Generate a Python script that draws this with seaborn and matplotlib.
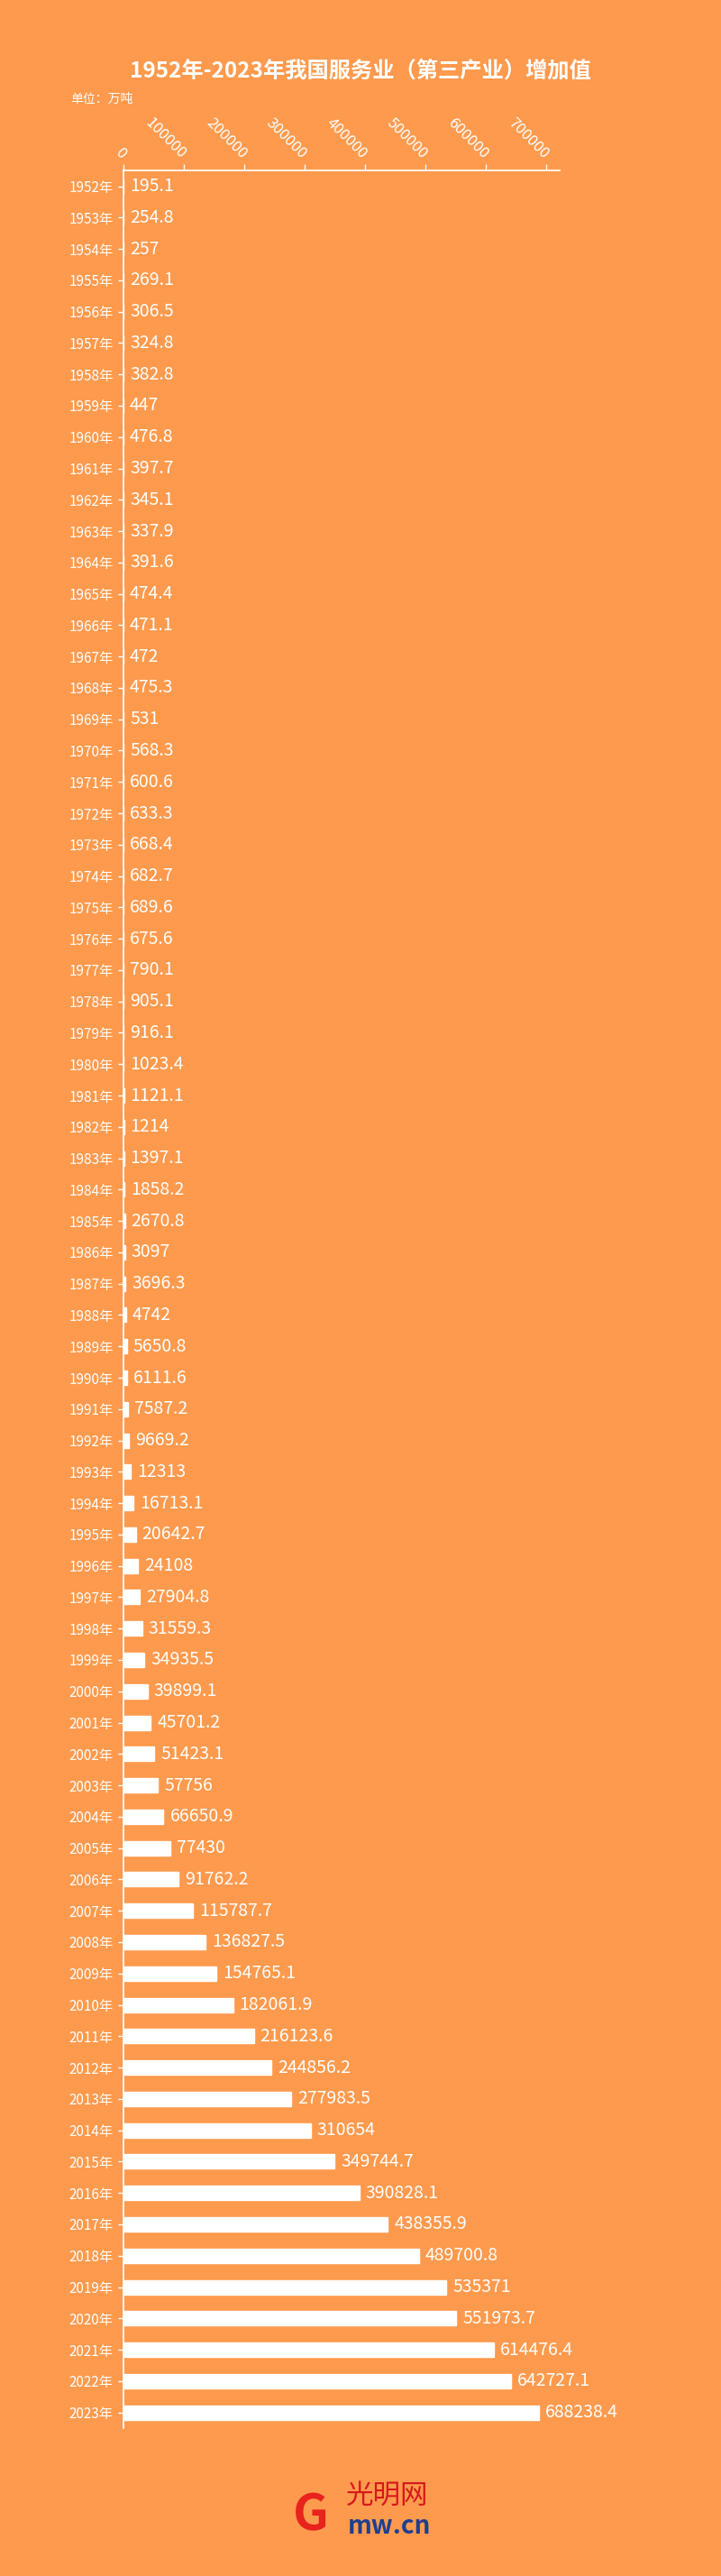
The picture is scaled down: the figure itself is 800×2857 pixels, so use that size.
import matplotlib
matplotlib.use("Agg")
import matplotlib.pyplot as plt
import matplotlib.transforms as mtransforms
import seaborn as sns
import pandas as pd

# data (unit label as printed in source)
years = list(range(1952, 2024))
year_labels = [f"{y}年" for y in years]
values = [
    195.1, 254.8, 257, 269.1, 306.5, 324.8, 382.8, 447, 476.8, 397.7,
    345.1, 337.9, 391.6, 474.4, 471.1, 472, 475.3, 531, 568.3, 600.6,
    633.3, 668.4, 682.7, 689.6, 675.6, 790.1, 905.1, 916.1, 1023.4, 1121.1,
    1214, 1397.1, 1858.2, 2670.8, 3097, 3696.3, 4742, 5650.8, 6111.6, 7587.2,
    9669.2, 12313, 16713.1, 20642.7, 24108, 27904.8, 31559.3, 34935.5, 39899.1, 45701.2,
    51423.1, 57756, 66650.9, 77430, 91762.2, 115787.7, 136827.5, 154765.1, 182061.9, 216123.6,
    244856.2, 277983.5, 310654, 349744.7, 390828.1, 438355.9, 489700.8, 535371, 551973.7, 614476.4,
    642727.1, 688238.4,
]
value_labels = [str(v) for v in values]
x_ticks = [0, 100000, 200000, 300000, 400000, 500000, 600000, 700000]

BG = "#FE9A4D"
FG = "white"

sns.set_style("white")
plt.rcParams["font.family"] = ["Noto Sans CJK SC", "DejaVu Sans"]
plt.rcParams["axes.unicode_minus"] = False

df = pd.DataFrame({"year": year_labels, "value": values})

fig = plt.figure(figsize=(8, 28.57), dpi=100, facecolor=BG)
ax = fig.add_axes([0.171, 0.0574, 0.605, 0.8764])
ax.set_facecolor(BG)

sns.barplot(data=df, x="value", y="year", orient="h", color=FG,
            width=0.46, saturation=1, ax=ax)

ax.set_xlim(0, max(values) * 1.05)
ax.set_ylim(len(values) - 0.5, -0.5)
ax.set_xlabel("")
ax.set_ylabel("")

# value labels just past the bar end
offset = mtransforms.ScaledTranslation(7 / 100, 0, fig.dpi_scale_trans)
for i, (v, lab) in enumerate(zip(values, value_labels)):
    ax.text(v, i, lab, color=FG, fontsize=14, va="center", ha="left",
            transform=ax.transData + offset)

# x axis on top, rotated labels
ax.xaxis.tick_top()
ax.set_xticks(x_ticks)
ax.set_xticklabels([str(t) for t in x_ticks], color=FG, fontsize=12)
for lab in ax.get_xticklabels():
    lab.set_rotation(-45)
    lab.set_ha("right")
    lab.set_va("center")
    lab.set_rotation_mode("anchor")
ax.tick_params(axis="x", colors=FG, length=5, width=1, pad=6, top=True, bottom=False)
ax.tick_params(axis="y", colors=FG, length=4, width=1, pad=4, labelsize=11, left=True)
for lab in ax.get_yticklabels():
    lab.set_color(FG)

for side in ["right", "bottom"]:
    ax.spines[side].set_visible(False)
for side in ["top", "left"]:
    ax.spines[side].set_color(FG)
    ax.spines[side].set_linewidth(1.2)

# title and unit
fig.text(0.5, 1 - 78 / 2857, "1952年-2023年我国服务业（第三产业）增加值",
         color=FG, fontsize=17.5, fontweight="bold", ha="center", va="center")
fig.text(78 / 800, 1 - 110 / 2857, "单位：万吨", color=FG, fontsize=10,
         ha="left", va="center")

# site logo (text)
fig.text(345 / 800, 1 - 2790 / 2857, "G", color="#E8231D", fontsize=40,
         fontweight="bold", ha="center", va="center")
fig.text(430 / 800, 1 - 2768 / 2857, "光明网", color="#D7191C", fontsize=22,
         fontstyle="italic", ha="center", va="center")
fig.text(432 / 800, 1 - 2802 / 2857, "mw.cn", color="#1D3F8F", fontsize=20,
         fontweight="bold", ha="center", va="center")

fig.savefig("out.png", dpi=100, facecolor=BG)
